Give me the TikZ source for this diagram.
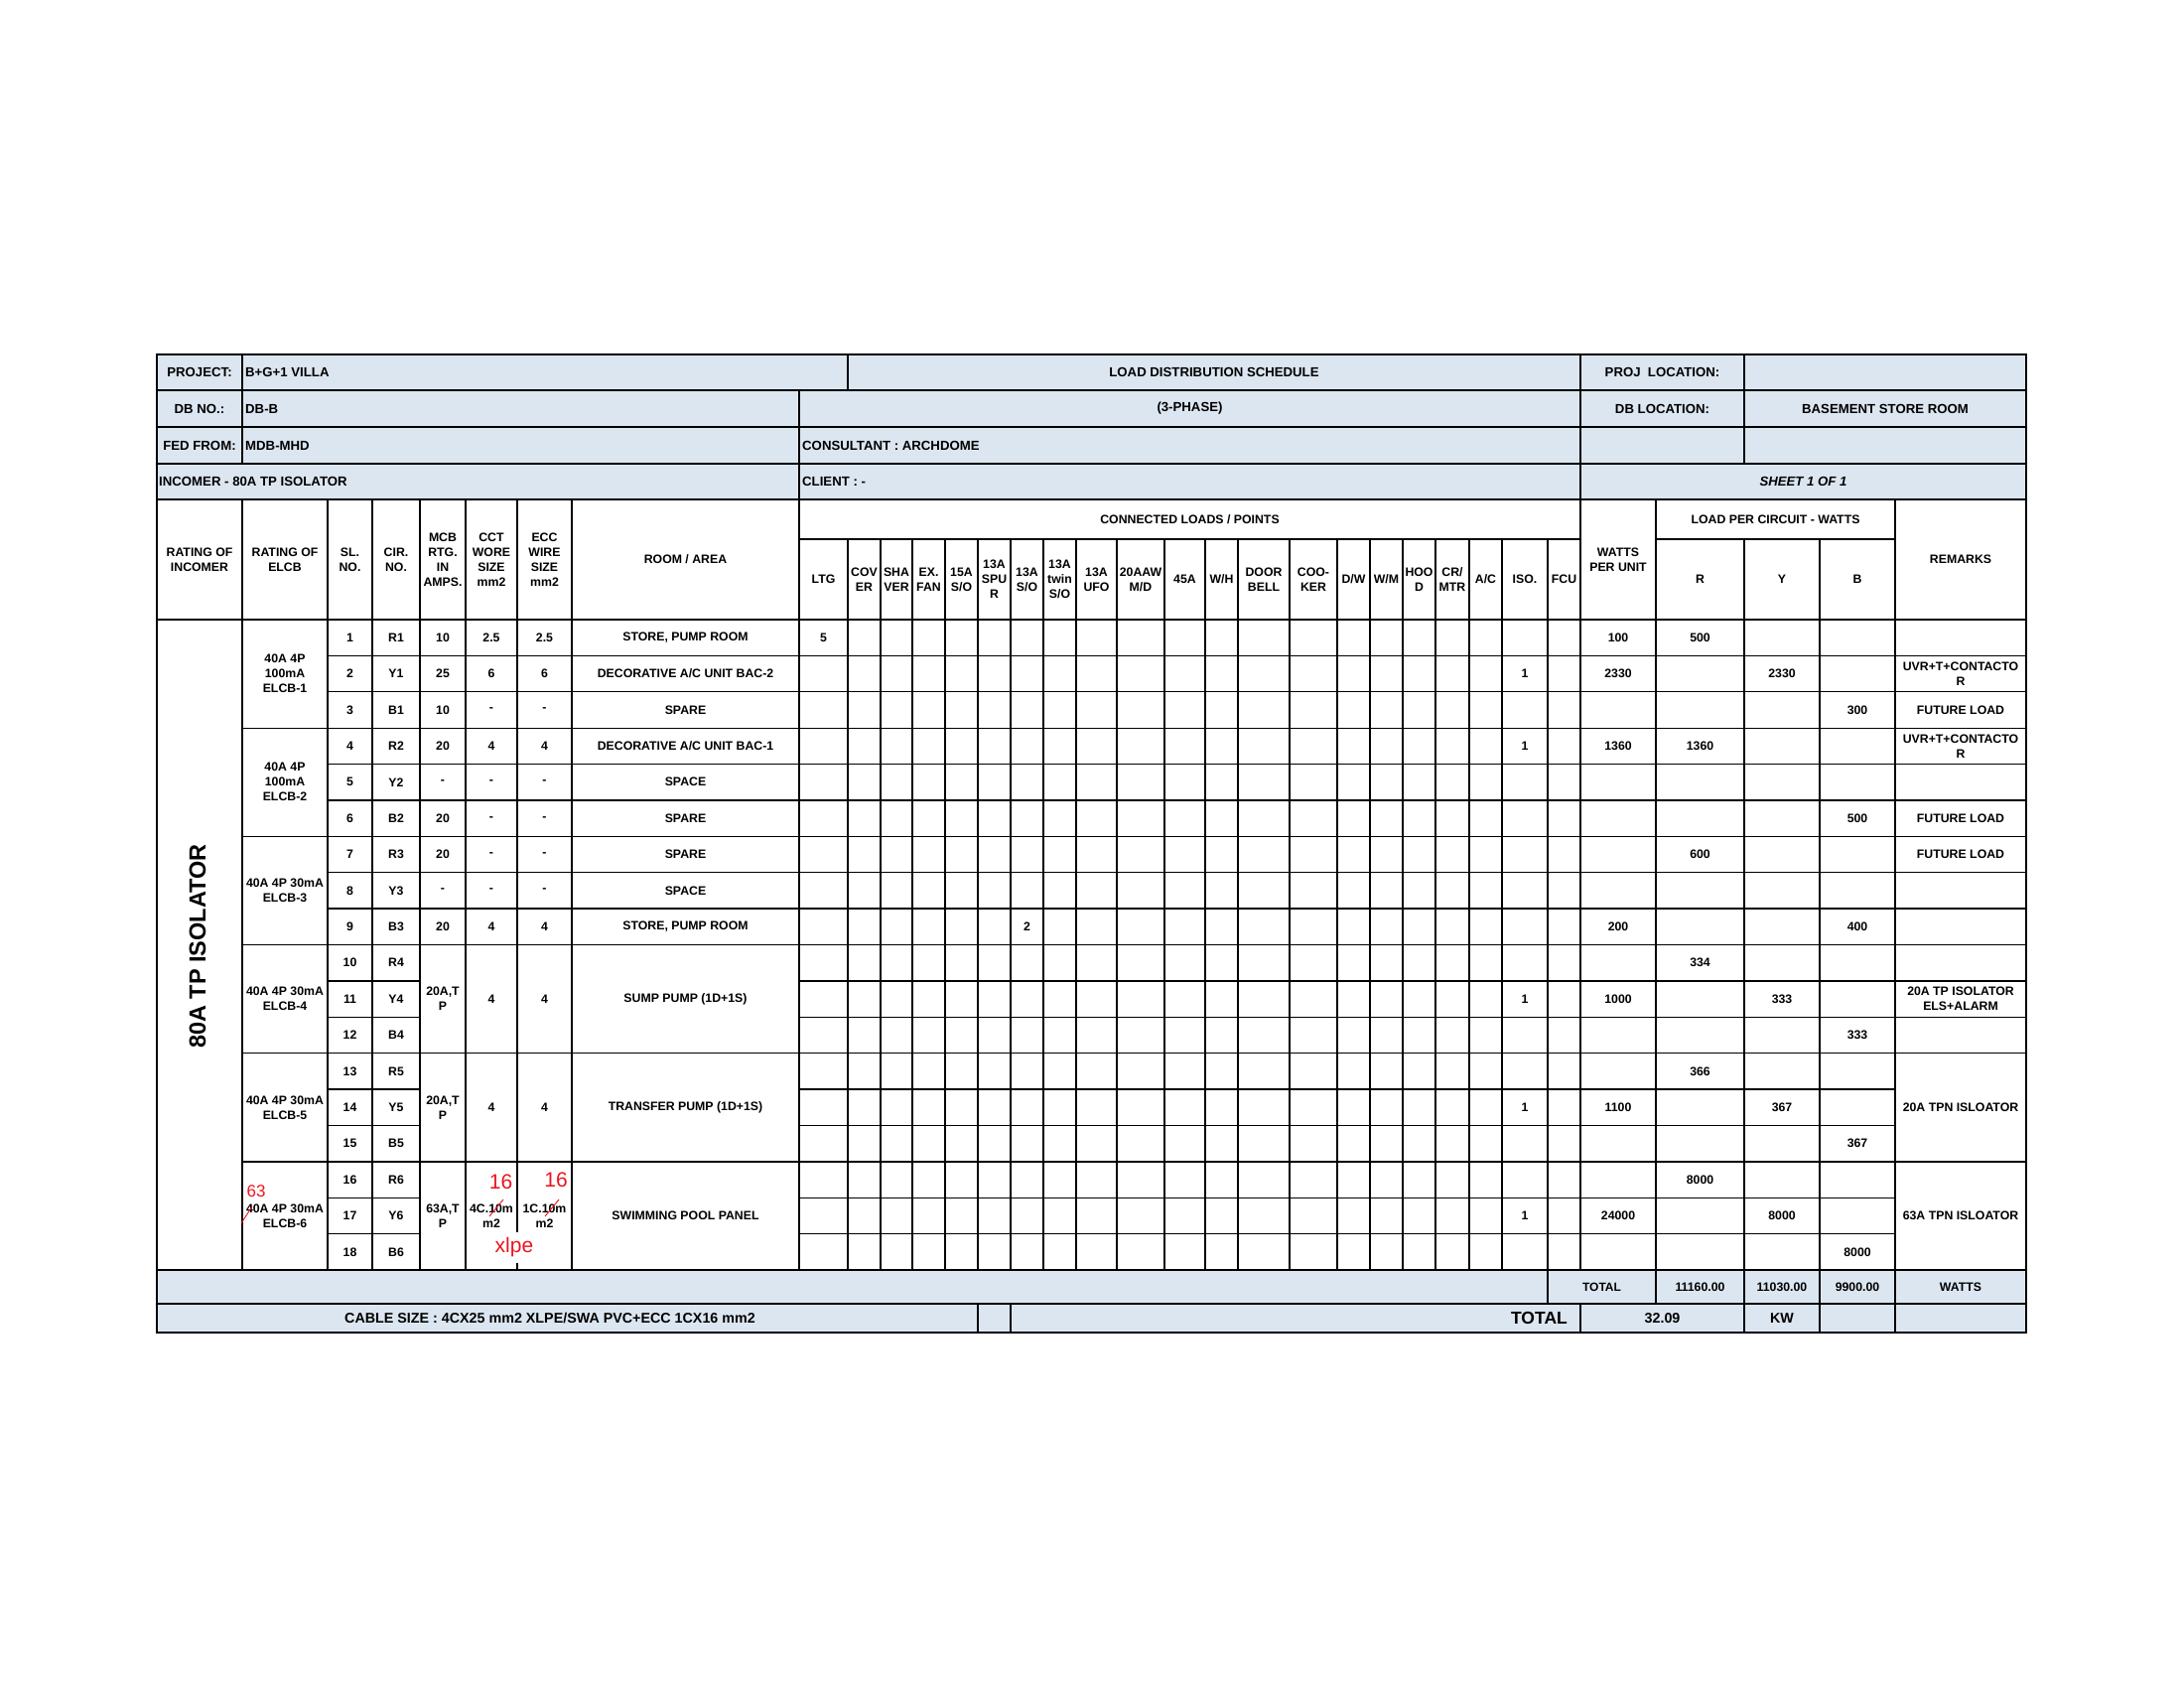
\documentclass[tikz,border=0pt]{standalone}
\usepackage{fontspec}
\setmainfont{Liberation Sans}
\definecolor{hdrfill}{RGB}{220,230,241}
\definecolor{redink}{RGB}{235,20,30}
\newcommand\fntdata{\fontsize{12.3}{15}\selectfont\bfseries}
\newcommand\fnthead{\fontsize{13.2}{16}\selectfont\bfseries}
\newcommand\fntlast{\fontsize{14.3}{17}\selectfont\bfseries}
\begin{document}
\begin{tikzpicture}[x=1pt,y=-1pt,
  declare function={yc(\k)=624+(\k-0.5)*36.389; yb(\k)=624+\k*36.389;},
  t/.style={font=\fntdata, align=center, inner sep=0pt},
  th/.style={font=\fnthead, align=center, inner sep=0pt},
  thl/.style={th, anchor=west},
  tlast/.style={font=\fntlast, align=center, inner sep=0pt},
  tabline/.style={line width=1.3pt, black, line cap=rect},
  redt/.style={text=redink, font=\fontsize{21}{24}\selectfont, inner sep=0pt},
  redl/.style={draw=redink, line width=0.9pt}]
\useasboundingbox (0,0) rectangle (2200,1700);
% fills
\fill[hdrfill] (158,357) rectangle (2041,503);
\fill[hdrfill] (158,1279) rectangle (2041,1342);
% grid
\begin{scope}[tabline]
\draw (158,357) rectangle (2041,1342);
\foreach \y in {393,430,467,503,624,1279,1313} \draw (158,\y) -- (2041,\y);
\draw (805,543) -- (1592,543);
\draw (1668,543) -- (1909,543);
\draw (244,357) -- (244,467);
\draw (244,503) -- (244,1279);
\draw (854,357) -- (854,393);
\draw (805,393) -- (805,1279);
\draw (1592,357) -- (1592,1279);
\draw (1592,1313) -- (1592,1342);
\draw (1757,357) -- (1757,467);
\draw (1757,543) -- (1757,1342);
\draw (1833,543) -- (1833,1342);
\draw (1909,503) -- (1909,1342);
\draw (1668,503) -- (1668,1313);
\draw (1559,543) -- (1559,1313);
\foreach \x in {330,375,423,469,576} \draw (\x,503) -- (\x,1279);
\draw (521,503) -- (521,1240);
\draw (521,1273) -- (521,1279);
\foreach \x in {854,887,919,952,985,1018,1051,1084,1125,1173,1214,1247,1299,1347,1380,1413,1446,1480,1513} \draw (\x,543) -- (\x,1279);
\draw (985,1313) -- (985,1342);
\draw (1018,1313) -- (1018,1342);
\foreach \k in {1,...,17} {
  \draw (330,{yb(\k)}) -- (423,{yb(\k)});
  \draw (805,{yb(\k)}) -- (1909,{yb(\k)});
}
\foreach \k in {1,2,3,4,5,6,7,8,9,12,15} \draw (423,{yb(\k)}) -- (805,{yb(\k)});
\foreach \k in {1,2,3,4,5,6,7,8,9,10,11,12,15} \draw (1909,{yb(\k)}) -- (2041,{yb(\k)});
\foreach \k in {3,6,9,12,15} \draw (244,{yb(\k)}) -- (330,{yb(\k)});
\end{scope}
% top header rows
\node[th] (pj) at (201,375) {PROJECT:};
\node[thl] (pjv) at (247,375) {B+G+1 VILLA};
\node[th] (lds) at (1223,375) {LOAD DISTRIBUTION SCHEDULE};
\node[th] (pl) at (1674.5,375) {PROJ\ \ LOCATION:};
\node[th] (db) at (201,411.5) {DB NO.:};
\node[thl] (dbv) at (247,411.5) {DB-B};
\node[th] (ph) at (1198.5,411.5) {(3-PHASE)};
\node[th] (dbl) at (1674.5,411.5) {DB LOCATION:};
\node[th] (dblv) at (1899,411.5) {BASEMENT STORE ROOM};
\node[th] (ff) at (201,448.5) {FED FROM:};
\node[thl] (ffv) at (247,448.5) {MDB-MHD};
\node[thl] (cons) at (808,448.5) {CONSULTANT : ARCHDOME};
\node[thl] (inc) at (160,485) {INCOMER - 80A TP ISOLATOR};
\node[thl] (cli) at (808,485) {CLIENT : -};
\node[th] (sh) at (1816.5,485) {\itshape SHEET 1 OF 1};
% column headers
\node[t] (hinc) at (201,563.5) {RATING OF\\INCOMER};
\node[t] (helcb) at (287,563.5) {RATING OF\\ELCB};
\node[t] (hsl) at (352.5,563.5) {SL.\\NO.};
\node[t] (hcir) at (399,563.5) {CIR.\\NO.};
\node[t] (hmcb) at (446,563.5) {MCB\\RTG.\\IN\\AMPS.};
\node[t] (hcct) at (495,563.5) {CCT\\WORE\\SIZE\\mm2};
\node[t] (hecc) at (548.5,563.5) {ECC\\WIRE\\SIZE\\mm2};
\node[t] (hroom) at (690.5,563.5) {ROOM / AREA};
\node[t] (hcl) at (1198.5,523) {CONNECTED LOADS / POINTS};
\node[t] (hlpc) at (1788.5,523) {LOAD PER CIRCUIT - WATTS};
\node[t] (hw) at (1630,563.5) {WATTS\\PER UNIT};
\node[t] (hr) at (1712.5,583.5) {R};
\node[t] (hy) at (1795,583.5) {Y};
\node[t] (hb) at (1871,583.5) {B};
\node[t] (hrem) at (1975,563.5) {REMARKS};
\node[t] (cl1) at (829.5,583.5) {LTG};
\node[t] (cl2) at (870.5,583.5) {COV\\ER};
\node[t] (cl3) at (903,583.5) {SHA\\VER};
\node[t] (cl4) at (935.5,583.5) {EX.\\FAN};
\node[t] (cl5) at (968.5,583.5) {15A\\S/O};
\node[t] (cl6) at (1001.5,583.5) {13A\\SPU\\R};
\node[t] (cl7) at (1034.5,583.5) {13A\\S/O};
\node[t] (cl8) at (1067.5,583.5) {13A\\twin\\S/O};
\node[t] (cl9) at (1104.5,583.5) {13A\\UFO};
\node[t] (cl10) at (1149,583.5) {20AAW\\M/D};
\node[t] (cl11) at (1193.5,583.5) {45A};
\node[t] (cl12) at (1230.5,583.5) {W/H};
\node[t] (cl13) at (1273,583.5) {DOOR\\BELL};
\node[t] (cl14) at (1323,583.5) {COO-\\KER};
\node[t] (cl15) at (1363.5,583.5) {D/W};
\node[t] (cl16) at (1396.5,583.5) {W/M};
\node[t] (cl17) at (1429.5,583.5) {HOO\\D};
\node[t] (cl18) at (1463,583.5) {CR/\\MTR};
\node[t] (cl19) at (1496.5,583.5) {A/C};
\node[t] (cl20) at (1536,583.5) {ISO.};
\node[t] (cl21) at (1575.5,583.5) {FCU};
% incomer title
\node[rotate=90, font=\fontsize{23.5}{28}\selectfont\bfseries, inner sep=0pt] (title) at (199,953) {80A TP ISOLATOR};
% ELCB groups
\node[t] (e1) at (287,{yc(2)}) {40A 4P\\100mA\\ELCB-1};
\node[t] (e2) at (287,{yc(5)}) {40A 4P\\100mA\\ELCB-2};
\node[t] (e3) at (287,{yc(8)}) {40A 4P 30mA\\ELCB-3};
\node[t] (e4) at (287,{yc(11)}) {40A 4P 30mA\\ELCB-4};
\node[t] (e5) at (287,{yc(14)}) {40A 4P 30mA\\ELCB-5};
\node[t] (e6) at (287,{yc(17)}) {40A 4P 30mA\\ELCB-6};
% SL and CIR
\foreach \k in {1,...,18} \node[t] (sl\k) at (352.5,{yc(\k)}) {\k};
\foreach \k/\c in {1/R1,2/Y1,3/B1,4/R2,5/Y2,6/B2,7/R3,8/Y3,9/B3,10/R4,11/Y4,12/B4,13/R5,14/Y5,15/B5,16/R6,17/Y6,18/B6}
  \node[t] (cir\k) at (399,{yc(\k)}) {\c};
% MCB, CCT, ECC rows 1-9
\foreach \k/\m/\c in {1/10/2.5,2/25/6,3/10/-,4/20/4,5/-/-,6/20/-,7/20/-,8/-/-,9/20/4} {
  \node[t] (mcb\k) at (446,{yc(\k)}) {\m};
  \node[t] (cct\k) at (495,{yc(\k)}) {\c};
  \node[t] (ecc\k) at (548.5,{yc(\k)}) {\c};
}
\node[t] (mcb10) at (446,{yc(11)}) {20A,T\\P};
\node[t] (mcb13) at (446,{yc(14)}) {20A,T\\P};
\node[t] (mcb16) at (446,{yc(17)}) {63A,T\\P};
\node[t] (cct10) at (495,{yc(11)}) {4};
\node[t] (cct13) at (495,{yc(14)}) {4};
\node[t] (cct16) at (495,{yc(17)}) {4C.10m\\m2};
\node[t] (ecc10) at (548.5,{yc(11)}) {4};
\node[t] (ecc13) at (548.5,{yc(14)}) {4};
\node[t] (ecc16) at (548.5,{yc(17)}) {1C.10m\\m2};
% rooms
\node[t] (rm1) at (690.5,{yc(1)}) {STORE, PUMP ROOM};
\node[t] (rm2) at (690.5,{yc(2)}) {DECORATIVE A/C UNIT BAC-2};
\node[t] (rm3) at (690.5,{yc(3)}) {SPARE};
\node[t] (rm4) at (690.5,{yc(4)}) {DECORATIVE A/C UNIT BAC-1};
\node[t] (rm5) at (690.5,{yc(5)}) {SPACE};
\node[t] (rm6) at (690.5,{yc(6)}) {SPARE};
\node[t] (rm7) at (690.5,{yc(7)}) {SPARE};
\node[t] (rm8) at (690.5,{yc(8)}) {SPACE};
\node[t] (rm9) at (690.5,{yc(9)}) {STORE, PUMP ROOM};
\node[t] (rm10) at (690.5,{yc(11)}) {SUMP PUMP (1D+1S)};
\node[t] (rm13) at (690.5,{yc(14)}) {TRANSFER PUMP (1D+1S)};
\node[t] (rm16) at (690.5,{yc(17)}) {SWIMMING POOL PANEL};
% connected loads values
\node[t] (ltg1) at (829.5,{yc(1)}) {5};
\node[t] (so9) at (1034.5,{yc(9)}) {2};
\foreach \k in {2,4,11,14,17} \node[t] (iso\k) at (1536,{yc(\k)}) {1};
% watts per unit
\foreach \k/\v in {1/100,2/2330,4/1360,9/200,11/1000,14/1100,17/24000} \node[t] (wpu\k) at (1630,{yc(\k)}) {\v};
\foreach \k/\v in {1/500,4/1360,7/600,10/334,13/366,16/8000} \node[t] (lr\k) at (1712.5,{yc(\k)}) {\v};
\foreach \k/\v in {2/2330,11/333,14/367,17/8000} \node[t] (ly\k) at (1795,{yc(\k)}) {\v};
\foreach \k/\v in {3/300,6/500,9/400,12/333,15/367,18/8000} \node[t] (lb\k) at (1871,{yc(\k)}) {\v};
% remarks
\node[t] (rk2) at (1975,{yc(2)}) {UVR+T+CONTACTO\\R};
\node[t] (rk3) at (1975,{yc(3)}) {FUTURE LOAD};
\node[t] (rk4) at (1975,{yc(4)}) {UVR+T+CONTACTO\\R};
\node[t] (rk6) at (1975,{yc(6)}) {FUTURE LOAD};
\node[t] (rk7) at (1975,{yc(7)}) {FUTURE LOAD};
\node[t] (rk11) at (1975,{yc(11)}) {20A TP ISOLATOR\\ELS+ALARM};
\node[t] (rk13) at (1975,{yc(14)}) {20A TPN ISLOATOR};
\node[t] (rk16) at (1975,{yc(17)}) {63A TPN ISLOATOR};
% total row
\node[t, font=\fontsize{12}{14}\selectfont\bfseries] (tot) at (1613.5,1296) {TOTAL};
\node[t] (totr) at (1712.5,1296) {11160.00};
\node[t] (toty) at (1795,1296) {11030.00};
\node[t] (totb) at (1871,1296) {9900.00};
\node[t] (totw) at (1975,1296) {WATTS};
% last row
\node[tlast] (cab) at (554,1327.5) {CABLE SIZE : 4CX25 mm2 XLPE/SWA PVC+ECC 1CX16 mm2};
\node[font=\fontsize{17.5}{20}\selectfont\bfseries, inner sep=0pt, anchor=east] (gtot) at (1579,1327.5) {TOTAL};
\node[tlast] (kwv) at (1674.5,1327.5) {32.09};
\node[tlast] (kw) at (1795,1327.5) {KW};
% red annotations
\node[redt, font=\fontsize{17}{20}\selectfont] (r63) at (258,1200) {63};
\draw[redl] (243,1232) -- (254,1215);
\node[redt] (r16a) at (504.5,1190) {16};
\node[redt] (r16b) at (560,1188) {16};
\draw[redl] (493,1225) -- (507,1208);
\draw[redl] (549,1225) -- (563,1208);
\node[redt] (xlpe) at (518,1256) {xlpe};
\end{tikzpicture}
\end{document}
